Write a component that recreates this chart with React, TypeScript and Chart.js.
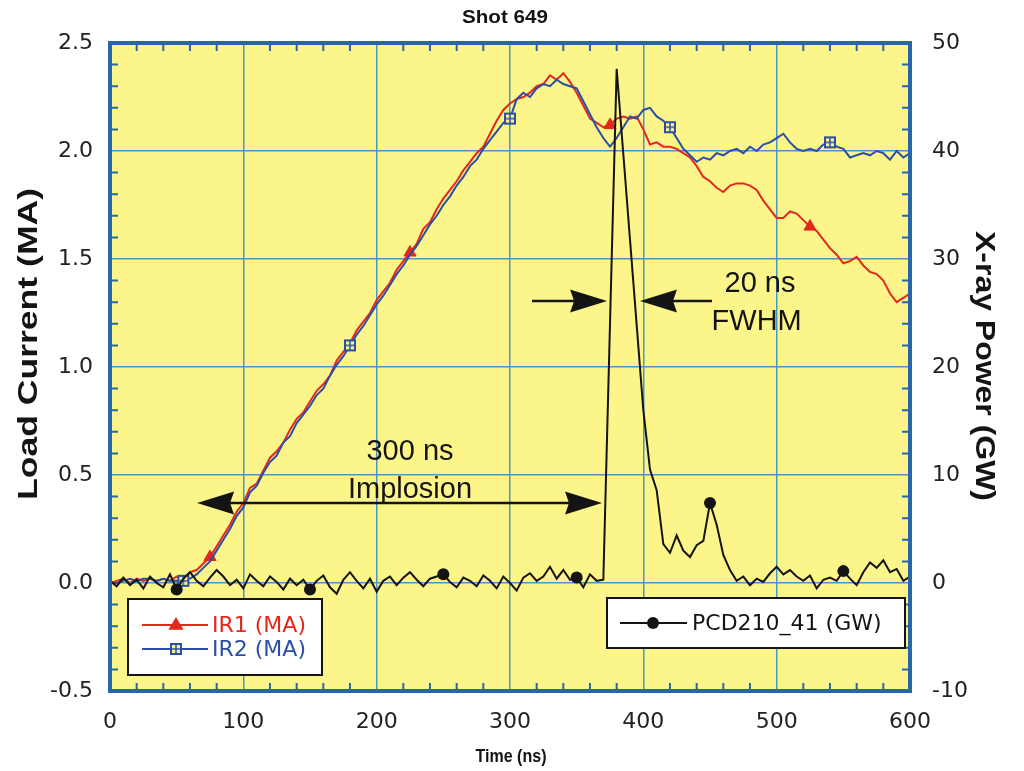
import React, { useEffect, useRef } from "react";
import { Chart, registerables } from "chart.js";

Chart.register(...registerables);

// ---- data ----
const TIME_NS = [
  0, 5, 10, 15, 20, 25, 30, 35, 40, 45,
  50, 55, 60, 65, 70, 75, 80, 85, 90, 95,
  100, 105, 110, 115, 120, 125, 130, 135, 140, 145,
  150, 155, 160, 165, 170, 175, 180, 185, 190, 195,
  200, 205, 210, 215, 220, 225, 230, 235, 240, 245,
  250, 255, 260, 265, 270, 275, 280, 285, 290, 295,
  300, 305, 310, 315, 320, 325, 330, 335, 340, 345,
  350, 355, 360, 365, 370, 375, 380, 385, 390, 395,
  400, 405, 410, 415, 420, 425, 430, 435, 440, 445,
  450, 455, 460, 465, 470, 475, 480, 485, 490, 495,
  500, 505, 510, 515, 520, 525, 530, 535, 540, 545,
  550, 555, 560, 565, 570, 575, 580, 585, 590, 595,
  600,
];

const IR1_MA = [
  0.00, 0.01, 0.02, 0.00, 0.02, 0.01, 0.02, 0.01, 0.02, 0.01,
  0.03, 0.02, 0.05, 0.06, 0.09, 0.12, 0.17, 0.22, 0.27, 0.33,
  0.37, 0.44, 0.46, 0.52, 0.58, 0.61, 0.65, 0.71, 0.76, 0.79,
  0.84, 0.89, 0.92, 0.96, 1.03, 1.07, 1.11, 1.17, 1.21, 1.25,
  1.31, 1.35, 1.39, 1.45, 1.49, 1.53, 1.57, 1.64, 1.67, 1.73,
  1.78, 1.82, 1.86, 1.91, 1.95, 1.99, 2.02, 2.08, 2.14, 2.19,
  2.22, 2.24, 2.25, 2.27, 2.30, 2.31, 2.35, 2.33, 2.36, 2.32,
  2.27, 2.21, 2.15, 2.13, 2.11, 2.12, 2.15, 2.16, 2.15, 2.16,
  2.10, 2.03, 2.04, 2.02, 2.02, 2.01, 1.99, 1.97, 1.93, 1.88,
  1.86, 1.83, 1.81, 1.84, 1.85, 1.85, 1.84, 1.82, 1.77, 1.73,
  1.69, 1.69, 1.72, 1.71, 1.68, 1.65, 1.63, 1.59, 1.55, 1.52,
  1.48, 1.49, 1.51, 1.47, 1.44, 1.43, 1.40, 1.34, 1.30, 1.32,
  1.34,
];

const IR2_MA = [
  0.00, 0.00, 0.01, 0.02, 0.01, 0.02, 0.02, 0.01, 0.02, 0.01,
  0.01, 0.01, 0.02, 0.04, 0.07, 0.10, 0.15, 0.20, 0.25, 0.31,
  0.35, 0.42, 0.45, 0.51, 0.56, 0.59, 0.65, 0.68, 0.74, 0.78,
  0.82, 0.87, 0.90, 0.96, 1.01, 1.05, 1.10, 1.15, 1.19, 1.24,
  1.29, 1.33, 1.38, 1.43, 1.47, 1.52, 1.56, 1.61, 1.66, 1.70,
  1.75, 1.79, 1.84, 1.88, 1.93, 1.96, 2.01, 2.05, 2.09, 2.13,
  2.15, 2.24, 2.27, 2.25, 2.29, 2.31, 2.30, 2.33, 2.31, 2.30,
  2.29, 2.23, 2.17, 2.11, 2.06, 2.02, 2.06, 2.11, 2.16, 2.15,
  2.19, 2.20, 2.16, 2.14, 2.11, 2.06, 2.01, 1.98, 1.95, 1.97,
  1.96, 1.99, 1.98, 2.00, 2.01, 1.99, 2.02, 2.00, 2.03, 2.04,
  2.06, 2.08, 2.04, 2.01, 2.00, 2.01, 2.00, 2.03, 2.04, 2.02,
  2.01, 1.97, 1.98, 1.99, 1.98, 2.00, 1.99, 1.96, 2.00, 1.97,
  1.99,
];

const PCD_GW = [
  0.2, -0.3, 0.5, -0.2, 0.3, -0.5, 0.6, 0.0, -0.4, 0.8,
  -0.6, 0.4, 1.0, 0.2, -0.3, 0.5, 1.2, 0.6, -0.2, 0.3,
  -0.5, 0.8, 0.2, -0.3, 0.6, 0.1, -0.6, 0.4, -0.2, 0.3,
  -0.6, 0.2, 0.7, -0.4, -1.0, 0.3, 1.0, 0.2, -0.5, 0.4,
  -0.8, 0.2, 0.6, -0.2, 0.5, 1.0, 0.3, -0.3, 0.4, 0.6,
  0.8, 0.1, -0.4, 0.5, 0.2, -0.3, 0.7, 0.2, -0.5, 0.6,
  0.0, -0.7, 0.5, 0.9, 0.2, 0.6, 1.5, 0.4, 1.2, 0.3,
  0.5, -0.4, 0.8, 0.2, 0.3, 24.0, 47.6, 39.7, 31.8, 23.9,
  16.0, 10.5, 8.6, 3.6, 2.8, 4.4, 3.0, 2.4, 3.5, 3.9,
  7.4, 5.4, 2.6, 1.2, 0.2, 0.6, -0.2, 0.4, 0.1, 0.9,
  1.5, 0.8, 1.2, 0.6, 0.2, 0.7, -0.5, 0.3, 0.5, 0.2,
  1.1, 0.4, -0.2, 1.0, 1.9, 1.4, 2.1, 1.0, 1.3, 0.2,
  0.6,
];

const IR1_MARKER_NS = [75, 225, 375, 525];
const IR2_MARKER_NS = [55, 180, 300, 420, 540];
const PCD_MARKER_NS = [50, 150, 250, 350, 450, 550];

const SERIES_LABELS = ["IR1 (MA)", "IR2 (MA)", "PCD210_41 (GW)"];
const CHART_TITLE = "Shot 649";
const X_TITLE = "Time (ns)";
const Y_LEFT_TITLE = "Load Current (MA)";
const Y_RIGHT_TITLE = "X-ray Power (GW)";

// ---- styles ----
const RED = "#e3281e";
const BLUE = "#2b4fa6";
const BLACK = "#141414";
const YELLOW = "#fcf68a";
const FRAME = "#2766a8";
const GRID = "#4a98c2";
const TICK_FONT = "'DejaVu Sans', 'Noto Sans', sans-serif";
const HEAD_FONT = "'Liberation Sans', Arial, sans-serif";

function makeBoxCross(): HTMLCanvasElement {
  const c = document.createElement("canvas");
  c.width = 14;
  c.height = 14;
  const g = c.getContext("2d")!;
  g.fillStyle = YELLOW;
  g.fillRect(1, 1, 12, 12);
  g.strokeStyle = BLUE;
  g.lineWidth = 2;
  g.strokeRect(2, 2, 10, 10);
  g.lineWidth = 1.5;
  g.beginPath();
  g.moveTo(7, 2);
  g.lineTo(7, 12);
  g.moveTo(2, 7);
  g.lineTo(12, 7);
  g.stroke();
  return c;
}

function fitText(
  ctx: CanvasRenderingContext2D,
  text: string,
  x: number,
  y: number,
  width: number,
  font: string,
  rot: number,
  color: string
) {
  ctx.save();
  ctx.translate(x, y);
  ctx.rotate(rot);
  ctx.font = font;
  const w = ctx.measureText(text).width;
  ctx.scale(width / w, 1);
  ctx.fillStyle = color;
  ctx.textAlign = "center";
  ctx.textBaseline = "middle";
  ctx.fillText(text, 0, 0);
  ctx.restore();
}

function head(ctx: CanvasRenderingContext2D, tipX: number, y: number, dir: number) {
  const L = 37;
  const H = 11.5;
  ctx.beginPath();
  ctx.moveTo(tipX, y);
  ctx.lineTo(tipX - dir * L, y - H);
  ctx.lineTo(tipX - dir * (L - 4), y);
  ctx.lineTo(tipX - dir * L, y + H);
  ctx.closePath();
  ctx.fill();
}

function hArrow(
  ctx: CanvasRenderingContext2D,
  x1: number,
  x2: number,
  y: number,
  startHead: boolean,
  endHead: boolean
) {
  ctx.strokeStyle = BLACK;
  ctx.fillStyle = BLACK;
  ctx.lineWidth = 2.5;
  ctx.beginPath();
  ctx.moveTo(x1 + (startHead ? 20 : 0), y);
  ctx.lineTo(x2 - (endHead ? 20 : 0), y);
  ctx.stroke();
  if (startHead) head(ctx, x1, y, -1);
  if (endHead) head(ctx, x2, y, 1);
}

function triangle(ctx: CanvasRenderingContext2D, x: number, y: number, r: number, color: string) {
  ctx.fillStyle = color;
  ctx.beginPath();
  ctx.moveTo(x, y - r);
  ctx.lineTo(x + r * 0.95, y + r * 0.6);
  ctx.lineTo(x - r * 0.95, y + r * 0.6);
  ctx.closePath();
  ctx.fill();
}

const decorPlugin = {
  id: "decor",
  beforeDraw(chart: any) {
    const { ctx, chartArea: a } = chart;
    ctx.save();
    ctx.fillStyle = "#ffffff";
    ctx.fillRect(0, 0, chart.width, chart.height);
    ctx.fillStyle = YELLOW;
    ctx.fillRect(a.left, a.top, a.right - a.left, a.bottom - a.top);
    ctx.restore();
  },
  afterDatasetsDraw(chart: any) {
    const { ctx, chartArea: a, scales } = chart;
    const xs = scales.x;
    const ys = scales.y;
    ctx.save();

    // minor ticks
    ctx.strokeStyle = FRAME;
    ctx.lineWidth = 2;
    ctx.beginPath();
    for (let t = 20; t < 600; t += 20) {
      if (t % 100 === 0) continue;
      const px = xs.getPixelForValue(t);
      ctx.moveTo(px, a.top);
      ctx.lineTo(px, a.top + 8);
      ctx.moveTo(px, a.bottom);
      ctx.lineTo(px, a.bottom - 8);
    }
    for (let k = -4; k < 25; k++) {
      if (k % 5 === 0) continue;
      const py = ys.getPixelForValue(k / 10);
      ctx.moveTo(a.left, py);
      ctx.lineTo(a.left + 8, py);
      ctx.moveTo(a.right, py);
      ctx.lineTo(a.right - 8, py);
    }
    ctx.stroke();

    // frame
    ctx.lineWidth = 4;
    ctx.strokeRect(a.left, a.top, a.right - a.left, a.bottom - a.top);

    // annotations
    const yImpl = ys.getPixelForValue(0.37);
    hArrow(ctx, xs.getPixelForValue(65.3), xs.getPixelForValue(369), yImpl, true, true);
    const yFw = ys.getPixelForValue(1.306);
    hArrow(ctx, xs.getPixelForValue(316.5), xs.getPixelForValue(372.8), yFw, false, true);
    hArrow(ctx, xs.getPixelForValue(397.5), xs.getPixelForValue(451.5), yFw, true, false);

    ctx.fillStyle = BLACK;
    ctx.textAlign = "center";
    ctx.textBaseline = "middle";
    ctx.font = `29px ${HEAD_FONT}`;
    ctx.fillText("300 ns", xs.getPixelForValue(225), ys.getPixelForValue(0.605));
    ctx.fillText("Implosion", xs.getPixelForValue(225), ys.getPixelForValue(0.43));
    ctx.fillText("20 ns", xs.getPixelForValue(487.5), ys.getPixelForValue(1.385));
    ctx.fillText("FWHM", xs.getPixelForValue(485), ys.getPixelForValue(1.21));

    // legend boxes
    ctx.textAlign = "left";
    ctx.font = `22px ${TICK_FONT}`;
    ctx.lineWidth = 2;
    const lx = a.left + 18;
    const ly = a.bottom - 92;
    ctx.fillStyle = "#ffffff";
    ctx.fillRect(lx, ly, 194, 76);
    ctx.strokeStyle = BLACK;
    ctx.strokeRect(lx, ly, 194, 76);
    // IR1 row
    ctx.strokeStyle = RED;
    ctx.beginPath();
    ctx.moveTo(lx + 14, ly + 26);
    ctx.lineTo(lx + 80, ly + 26);
    ctx.stroke();
    triangle(ctx, lx + 48, ly + 26, 8, RED);
    ctx.fillStyle = RED;
    ctx.fillText(SERIES_LABELS[0], lx + 84, ly + 27);
    // IR2 row
    ctx.strokeStyle = BLUE;
    ctx.beginPath();
    ctx.moveTo(lx + 14, ly + 50);
    ctx.lineTo(lx + 80, ly + 50);
    ctx.stroke();
    const bc = chart.$boxCross as HTMLCanvasElement;
    if (bc) ctx.drawImage(bc, lx + 48 - 7, ly + 50 - 7);
    ctx.fillStyle = BLUE;
    ctx.fillText(SERIES_LABELS[1], lx + 84, ly + 51);

    const rx = a.left + 497;
    const ry = a.bottom - 93;
    ctx.fillStyle = "#ffffff";
    ctx.fillRect(rx, ry, 298, 50);
    ctx.strokeStyle = BLACK;
    ctx.strokeRect(rx, ry, 298, 50);
    ctx.beginPath();
    ctx.moveTo(rx + 13, ry + 25);
    ctx.lineTo(rx + 80, ry + 25);
    ctx.stroke();
    ctx.fillStyle = BLACK;
    ctx.beginPath();
    ctx.arc(rx + 46, ry + 25, 6, 0, Math.PI * 2);
    ctx.fill();
    ctx.fillText(SERIES_LABELS[2], rx + 85, ry + 26);

    // titles
    fitText(ctx, CHART_TITLE, 505, 18, 86, `bold 19px ${HEAD_FONT}`, 0, BLACK);
    fitText(ctx, X_TITLE, 511, 757, 71, `bold 19px ${HEAD_FONT}`, 0, BLACK);
    fitText(ctx, Y_LEFT_TITLE, 29, 344, 312, `bold 28px ${HEAD_FONT}`, -Math.PI / 2, BLACK);
    fitText(ctx, Y_RIGHT_TITLE, 984, 366, 270, `bold 28px ${HEAD_FONT}`, Math.PI / 2, BLACK);

    ctx.restore();
  },
};

function markerRadius(times: number[], r: number) {
  return (c: any) => (times.includes(TIME_NS[c.dataIndex]) ? r : 0);
}

export default function App() {
  const ref = useRef<HTMLCanvasElement>(null);

  useEffect(() => {
    const canvas = ref.current;
    if (!canvas) return;
    const boxCross = makeBoxCross();

    const chart: any = new Chart(canvas, {
      type: "line",
      data: {
        datasets: [
          {
            label: SERIES_LABELS[2],
            data: TIME_NS.map((t, i) => ({ x: t, y: PCD_GW[i] })),
            yAxisID: "y2",
            borderColor: BLACK,
            borderWidth: 2,
            backgroundColor: BLACK,
            pointStyle: "circle",
            pointRadius: markerRadius(PCD_MARKER_NS, 6),
            pointBackgroundColor: BLACK,
            pointBorderColor: BLACK,
            pointBorderWidth: 0,
            tension: 0,
          },
          {
            label: SERIES_LABELS[1],
            data: TIME_NS.map((t, i) => ({ x: t, y: IR2_MA[i] })),
            yAxisID: "y",
            borderColor: BLUE,
            borderWidth: 2,
            backgroundColor: BLUE,
            pointStyle: boxCross as any,
            pointRadius: markerRadius(IR2_MARKER_NS, 6),
            tension: 0,
          },
          {
            label: SERIES_LABELS[0],
            data: TIME_NS.map((t, i) => ({ x: t, y: IR1_MA[i] })),
            yAxisID: "y",
            borderColor: RED,
            borderWidth: 2,
            backgroundColor: RED,
            pointStyle: "triangle",
            pointRadius: markerRadius(IR1_MARKER_NS, 7),
            pointBackgroundColor: RED,
            pointBorderColor: RED,
            pointBorderWidth: 1,
            tension: 0,
          },
        ],
      },
      options: {
        responsive: false,
        animation: false,
        events: [],
        layout: { padding: { top: 43, left: 0, right: 0, bottom: 0 } },
        plugins: {
          legend: { display: false },
          tooltip: { enabled: false },
          title: { display: false },
        },
        scales: {
          x: {
            type: "linear",
            min: 0,
            max: 600,
            grid: { color: GRID, lineWidth: 1.5, drawTicks: false },
            border: { display: false },
            ticks: {
              stepSize: 100,
              padding: 18,
              maxRotation: 0,
              autoSkip: false,
              color: "#222",
              font: { family: TICK_FONT, size: 22 },
            },
            afterFit: (s: any) => {
              s.height = 80;
            },
          },
          y: {
            type: "linear",
            position: "left",
            min: -0.5,
            max: 2.5,
            grid: { color: GRID, lineWidth: 1.5, drawTicks: false },
            border: { display: false },
            ticks: {
              stepSize: 0.5,
              padding: 17,
              color: "#222",
              font: { family: TICK_FONT, size: 22 },
              callback: (v: any) => Number(v).toFixed(1),
            },
            afterFit: (s: any) => {
              s.width = 110;
            },
          },
          y2: {
            type: "linear",
            position: "right",
            min: -10,
            max: 50,
            grid: { display: false, drawTicks: false },
            border: { display: false },
            ticks: {
              stepSize: 10,
              padding: 22,
              color: "#222",
              font: { family: TICK_FONT, size: 22 },
            },
            afterFit: (s: any) => {
              s.width = 114;
            },
          },
        },
      },
      plugins: [decorPlugin],
    });
    chart.$boxCross = boxCross;
    chart.draw();

    return () => chart.destroy();
  }, []);

  return (
    <div style={{ position: "fixed", left: 0, top: 0, width: 1024, height: 771, background: "#fff" }}>
      <canvas ref={ref} width={1024} height={771} style={{ display: "block", width: 1024, height: 771 }} />
    </div>
  );
}
